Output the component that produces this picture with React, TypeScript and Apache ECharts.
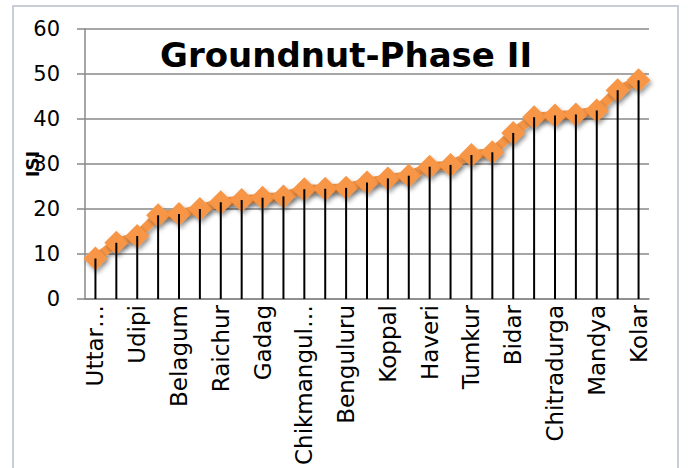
import React, { useEffect, useRef } from "react";
import * as echarts from "echarts";

const districts = [
  "Uttara Kannada", "Dakshina Kannada", "Udipi", "Kodagu", "Belagum", "Bijapur",
  "Raichur", "Bagalkot", "Gadag", "Dharwad", "Chikmangulur", "Shimoga",
  "Benguluru", "Hassan", "Koppal", "Gulbarga", "Haveri", "Bellary",
  "Tumkur", "Davangere", "Bidar", "Mysore", "Chitradurga", "Chamarajanagar",
  "Mandya", "Ramanagara", "Kolar",
];

const isiValues = [
  9.0, 12.5, 14.0, 18.6, 18.9, 20.0, 21.5, 22.0, 22.5, 22.8, 24.4, 24.5, 24.7,
  25.9, 26.8, 27.4, 29.4, 29.8, 32.0, 32.6, 36.9, 40.4, 40.8, 41.0, 41.9, 46.4, 48.6,
];

const yTicks = [0, 10, 20, 30, 40, 50, 60];

const shownLabels: Record<string, string> = {
  "Uttara Kannada": "Uttar\u2026",
  Chikmangulur: "Chikmangul\u2026",
};

const chartTitle = "Groundnut-Phase II";
const yName = "ISI";

export default function App() {
  const ref = useRef<HTMLDivElement>(null);
  useEffect(() => {
    if (!ref.current) return;
    const chart = echarts.init(ref.current, undefined, { renderer: "svg" });
    const gridColor = "#898989";
    const shadow = {
      shadowColor: "rgba(0,0,0,0.35)",
      shadowBlur: 4,
      shadowOffsetX: 2,
      shadowOffsetY: 3,
    };
    chart.setOption({
      animation: false,
      backgroundColor: "#ffffff",
      title: {
        text: chartTitle,
        left: 155,
        top: 33,
        textStyle: {
          fontFamily: "DejaVu Sans",
          fontWeight: "bold",
          fontSize: 34,
          color: "#000",
        },
      },
      graphic: [
        {
          type: "rect",
          shape: { x: 13, y: 6, width: 665, height: 480 },
          style: { fill: "none", stroke: "#c9ced6", lineWidth: 2 },
          silent: true,
        },
      ],
      grid: { left: 85, right: 39, top: 29, bottom: 168, containLabel: false },
      xAxis: {
        type: "category",
        data: districts,
        boundaryGap: true,
        axisLine: { show: true, lineStyle: { color: gridColor, width: 1.5 } },
        axisTick: { show: false },
        axisLabel: {
          interval: 1,
          rotate: 90,
          margin: 6,
          fontFamily: "DejaVu Sans",
          fontSize: 23,
          color: "#000",
          formatter: (v: string) => shownLabels[v] ?? v,
        },
      },
      yAxis: {
        type: "value",
        min: yTicks[0],
        max: yTicks[yTicks.length - 1],
        interval: 10,
        name: yName,
        nameLocation: "middle",
        nameRotate: 90,
        nameGap: 44,
        nameMoveOverlap: false,
        nameTextStyle: {
          fontFamily: "DejaVu Sans",
          fontWeight: "bold",
          fontSize: 18,
          color: "#000",
        },
        axisLine: { show: true, lineStyle: { color: gridColor, width: 1.5 } },
        axisTick: { show: true, length: 8, lineStyle: { color: gridColor, width: 1.5 } },
        axisLabel: {
          margin: 25,
          fontFamily: "DejaVu Sans",
          fontSize: 21,
          color: "#000",
        },
        splitLine: { show: true, lineStyle: { color: gridColor, width: 1.5 } },
      },
      series: [
        {
          type: "line",
          data: isiValues,
          z: 2,
          symbol: "diamond",
          symbolSize: 24,
          showAllSymbol: true,
          lineStyle: { color: "#F79646", width: 9, ...shadow },
          itemStyle: { color: "#F79646", ...shadow },
        },
        {
          type: "bar",
          data: isiValues,
          z: 3,
          barWidth: 2,
          itemStyle: { color: "#000" },
        },
      ],
    });
    return () => chart.dispose();
  }, []);
  return (
    <div
      ref={ref}
      style={{ position: "fixed", left: 0, top: 0, width: 688, height: 468 }}
    />
  );
}
